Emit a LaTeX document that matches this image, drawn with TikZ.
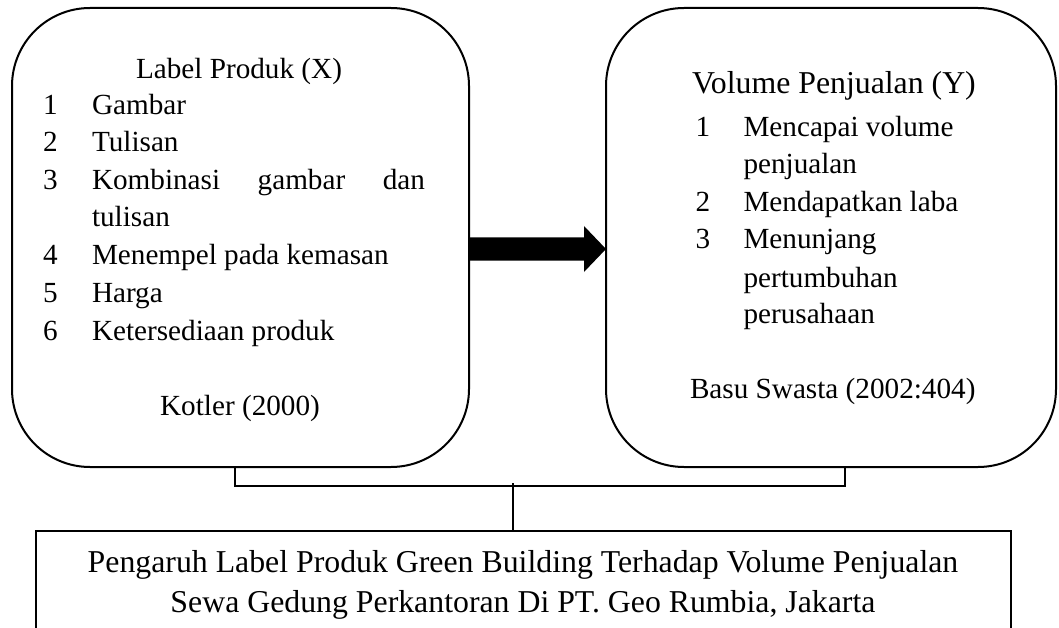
\documentclass[tikz,border=0pt]{standalone}
\usepackage{fontspec}
\setmainfont{Liberation Serif}
\usetikzlibrary{calc}
\begin{document}
\begin{tikzpicture}[x=1pt,y=-1pt,
  roundbox/.style={draw, line width=2pt, rounded corners=78pt, inner sep=0pt, outer sep=0pt},
  plainbox/.style={draw, line width=2pt, inner sep=0pt, outer sep=0pt},
  body/.style={inner sep=0pt, outer sep=0pt, font=\fontsize{29.2pt}{35pt}\selectfont},
  head/.style={inner sep=0pt, outer sep=0pt, font=\fontsize{31.8pt}{38pt}\selectfont},
  bracket/.style={line width=2.6pt, line join=miter},
  stem/.style={line width=2pt},
  fatarrow/.style={fill=black}
]
\useasboundingbox (0,0) rectangle (1059,628);
\clip (0,0) rectangle (1059,628);

% variable boxes
\node[roundbox, minimum width=457pt, minimum height=459pt] (X) at (240.5,237.5) {};
\node[roundbox, minimum width=450pt, minimum height=459pt] (Y) at (831,237.5) {};
% title box (runs past the lower edge)
\node[plainbox, minimum width=975pt, minimum height=160pt] (Z) at (523.5,611) {};

% left box: Label Produk (X)
\node[body, anchor=base] (xt) at (239,79) {Label Produk (X)};
\node[body, anchor=base west] (x1n) at (43,115) {1};
\node[body, anchor=base west] (x1)  at (92,115) {Gambar};
\node[body, anchor=base west] (x2n) at (43,152) {2};
\node[body, anchor=base west] (x2)  at (92,152) {Tulisan};
\node[body, anchor=base west] (x3n) at (43,190) {3};
\node[body, anchor=base west] (x3)  at (92,190) {\hbox to 333pt{Kombinasi\hfill gambar\hfill dan}};
\node[body, anchor=base west] (x3b) at (92,227) {tulisan};
\node[body, anchor=base west] (x4n) at (43,265) {4};
\node[body, anchor=base west] (x4)  at (92,265) {Menempel pada kemasan};
\node[body, anchor=base west] (x5n) at (43,302) {5};
\node[body, anchor=base west] (x5)  at (92,302) {Harga};
\node[body, anchor=base west] (x6n) at (43,340) {6};
\node[body, anchor=base west] (x6)  at (92,340) {Ketersediaan produk};
\node[body, anchor=base] (xs) at (240,415) {Kotler (2000)};

% right box: Volume Penjualan (Y)
\node[head, anchor=base west] (yt) at (692,94) {Volume Penjualan (Y)};
\node[body, anchor=base west] (y1n) at (695.5,137) {1};
\node[body, anchor=base west] (y1)  at (743.5,137) {Mencapai volume};
\node[body, anchor=base west] (y1b) at (743.5,174) {penjualan};
\node[body, anchor=base west] (y2n) at (695.5,212) {2};
\node[body, anchor=base west] (y2)  at (743.5,212) {Mendapatkan laba};
\node[body, anchor=base west] (y3n) at (695.5,248) {3};
\node[body, anchor=base west] (y3)  at (743.5,248) {Menunjang};
\node[body, anchor=base west] (y3b) at (743.5,287) {pertumbuhan};
\node[body, anchor=base west] (y3c) at (743.5,323) {perusahaan};
\node[body, anchor=base west] (ys)  at (690,398) {Basu Swasta (2002:404)};

% title text
\node[head, anchor=base] (z1) at (523,572) {Pengaruh Label Produk Green Building Terhadap Volume Penjualan};
\node[head, anchor=base] (z2) at (523,612) {Sewa Gedung Perkantoran Di PT. Geo Rumbia, Jakarta};

% block arrow X -> Y
\coordinate (ay) at (0,249);
\fill[fatarrow] ($(X.east|-ay)+(0,-11.7)$) -- ($(Y.west|-ay)+(-22,-11.7)$)
  -- ($(Y.west|-ay)+(-22,-23)$) -- (Y.west|-ay) -- ($(Y.west|-ay)+(-22,23)$)
  -- ($(Y.west|-ay)+(-22,11.7)$) -- ($(X.east|-ay)+(0,11.7)$) -- cycle;

% bracket joining both boxes to the title box
\coordinate (bl) at (235,486);
\coordinate (br) at (845,486);
\coordinate (bm) at (513,486);
\draw[bracket] (X.south -| bl) -- (bl) -- (br) -- (Y.south -| br);
\draw[stem] ($(bm)+(0,-3)$) -- (Z.north -| bm);
\end{tikzpicture}
\end{document}
